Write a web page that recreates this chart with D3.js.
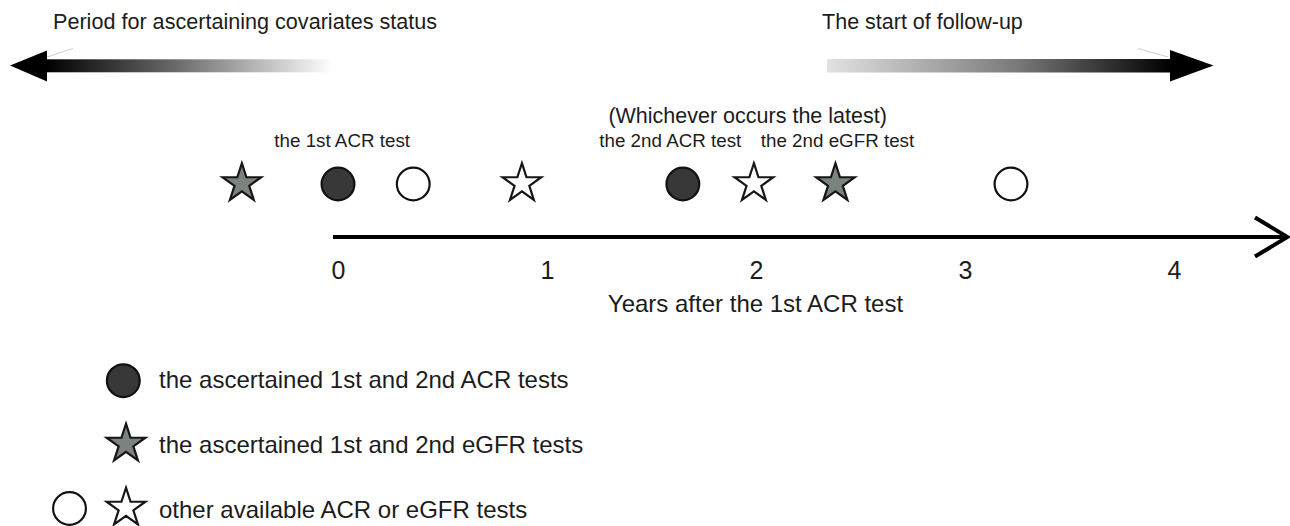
<!DOCTYPE html>
<html>
<head>
<meta charset="utf-8">
<script src="https://cdn.jsdelivr.net/npm/d3@7"></script>
<style>
  html, body { margin: 0; padding: 0; background: #fff; }
  svg { display: block; }
  text { font-family: "Liberation Sans", Arial, Helvetica, sans-serif; fill: #1c1c1c; }
  .tick text { font-size: 25px; }
</style>
</head>
<body>
<div id="chart"></div>
<script>
// Test timeline (years after the 1st ACR test)
var markerYears = [-0.46, 0, 0.36, 0.88, 1.65, 1.99, 2.38, 3.22];
var markerKinds = ['starKey', 'circleKey', 'circleOther', 'starOther', 'circleKey', 'starOther', 'starKey', 'circleOther'];

var tickValues = [0, 1, 2, 3, 4];
var followUpStart = 2.34;

var noteLabels = ['the 1st ACR test', '(Whichever occurs the latest)', 'the 2nd ACR test', 'the 2nd eGFR test'];
var noteYears  = [0.02, 1.96, 1.59, 2.39];
var noteRows   = [1, 0, 1, 1];

var legendLabels = ['the ascertained 1st and 2nd ACR tests', 'the ascertained 1st and 2nd eGFR tests', 'other available ACR or eGFR tests'];
var legendKinds  = [['circleKey'], ['starKey'], ['circleOther', 'starOther']];

var width = 1290, height = 526;
var axisY = 237, markY = 184;

var svg = d3.select('#chart').append('svg')
  .attr('width', width)
  .attr('height', height);

var x = d3.scaleLinear()
  .domain([0, 4])
  .range([338, 1174]);

var defs = svg.append('defs');

var gradLeft = defs.append('linearGradient')
  .attr('id', 'grad-left')
  .attr('gradientUnits', 'userSpaceOnUse')
  .attr('x1', 46).attr('x2', x(0) - 5)
  .attr('y1', 0).attr('y2', 0);
gradLeft.append('stop').attr('offset', 0).attr('stop-color', '#000');
gradLeft.append('stop').attr('offset', 0.45).attr('stop-color', '#6a6a6a');
gradLeft.append('stop').attr('offset', 1).attr('stop-color', '#fff');

var gradRight = defs.append('linearGradient')
  .attr('id', 'grad-right')
  .attr('gradientUnits', 'userSpaceOnUse')
  .attr('x1', x(followUpStart)).attr('x2', 1171)
  .attr('y1', 0).attr('y2', 0);
gradRight.append('stop').attr('offset', 0).attr('stop-color', '#e2e2e2');
gradRight.append('stop').attr('offset', 0.55).attr('stop-color', '#7a7a7a');
gradRight.append('stop').attr('offset', 1).attr('stop-color', '#000');

// Period arrows at the top
var header = svg.append('g').attr('class', 'period-arrows');

header.append('rect')
  .attr('x', 45).attr('y', 59.3)
  .attr('width', x(0) - 5 - 45).attr('height', 13)
  .attr('fill', 'url(#grad-left)');
header.append('path')
  .attr('d', 'M10,65.5 L47,50.5 L47,81.5 Z')
  .attr('fill', '#000');
header.append('line')
  .attr('x1', 47).attr('y1', 57).attr('x2', 73).attr('y2', 48.5)
  .attr('stroke', '#cfcfcf').attr('stroke-width', 1);

header.append('rect')
  .attr('x', x(followUpStart)).attr('y', 59)
  .attr('width', 1171 - x(followUpStart)).attr('height', 13.5)
  .attr('fill', 'url(#grad-right)');
header.append('path')
  .attr('d', 'M1213.5,65.5 L1170,50 L1170,81.5 Z')
  .attr('fill', '#000');
header.append('line')
  .attr('x1', 1138).attr('y1', 48.5).attr('x2', 1168).attr('y2', 57)
  .attr('stroke', '#cfcfcf').attr('stroke-width', 1);

header.append('text')
  .attr('x', 53).attr('y', 29.3)
  .style('font-size', '21.6px')
  .text('Period for ascertaining covariates status');

header.append('text')
  .attr('x', x(followUpStart) - 5).attr('y', 28.5)
  .style('font-size', '21.5px')
  .text('The start of follow-up');

// Notes above the markers
svg.append('g')
  .attr('class', 'notes')
.selectAll('text')
  .data(noteLabels)
.enter().append('text')
  .attr('x', function(d, i){ return x(noteYears[i]); })
  .attr('y', function(d, i){ return noteRows[i] === 0 ? 123 : 147.3; })
  .attr('text-anchor', 'middle')
  .style('font-size', function(d, i){ return noteRows[i] === 0 ? '21.5px' : '18.8px'; })
  .text(function(d){ return d; });

// Axis line with open arrow head
svg.append('line')
  .attr('x1', x(0) - 5).attr('x2', 1287)
  .attr('y1', axisY).attr('y2', axisY)
  .attr('stroke', '#000').attr('stroke-width', 4);
svg.append('path')
  .attr('d', 'M1255,217.5 L1287.5,237 L1255,256.5')
  .attr('fill', 'none')
  .attr('stroke', '#000')
  .attr('stroke-width', 4);

var xAxis = d3.axisBottom(x)
  .tickValues(tickValues)
  .tickSize(0)
  .tickPadding(24)
  .tickFormat(d3.format('d'));

svg.append('g')
  .attr('class', 'x axis')
  .attr('transform', 'translate(0,' + axisY + ')')
  .call(xAxis)
  .call(function(g){ g.select('.domain').remove(); })
  .selectAll('text')
    .attr('fill', '#1c1c1c')
    .style('font-family', '"Liberation Sans", Arial, sans-serif');

svg.append('text')
  .attr('x', 755.5).attr('y', 312.3)
  .attr('text-anchor', 'middle')
  .style('font-size', '24px')
  .text('Years after the 1st ACR test');

// Marker drawing
var starPath = d3.symbol().type(d3.symbolStar).size(20.3 * 20.3 / 0.8908130915292852)();

var styles = {
  circleKey:   {fill: '#383838', stroke: '#111'},
  circleOther: {fill: '#fff',    stroke: '#111'},
  starKey:     {fill: '#7c827e', stroke: '#161616'},
  starOther:   {fill: '#fff',    stroke: '#161616'}
};

var drawMarker = function(sel, kind, cx, cy) {
  var s = styles[kind];
  if (kind.indexOf('circle') === 0) {
    sel.append('circle')
      .attr('cx', cx).attr('cy', cy)
      .attr('r', 16.4)
      .attr('fill', s.fill)
      .attr('stroke', s.stroke)
      .attr('stroke-width', 2.2);
  } else {
    sel.append('path')
      .attr('d', starPath)
      .attr('transform', 'translate(' + cx + ',' + (cy - 0.5) + ')')
      .attr('fill', s.fill)
      .attr('stroke', s.stroke)
      .attr('stroke-width', 2.2)
      .attr('stroke-linejoin', 'miter');
  }
};

var marks = svg.append('g').attr('class', 'markers');
markerYears.forEach(function(yr, i){
  drawMarker(marks, markerKinds[i], x(yr), markY);
});

// Legend
var legendRowY = [380.7, 444.5, 508.5];
var legendBase = [388, 453.3, 517.5];
var legendMarkX = {circleKey: 123.3, starKey: 126, circleOther: 69.5, starOther: 126};

var legend = svg.append('g').attr('class', 'legend');
legendLabels.forEach(function(label, i){
  legendKinds[i].forEach(function(kind){
    drawMarker(legend, kind, legendMarkX[kind], legendRowY[i]);
  });
  legend.append('text')
    .attr('x', 159).attr('y', legendBase[i])
    .style('font-size', '24px')
    .text(label);
});
</script>
</body>
</html>
